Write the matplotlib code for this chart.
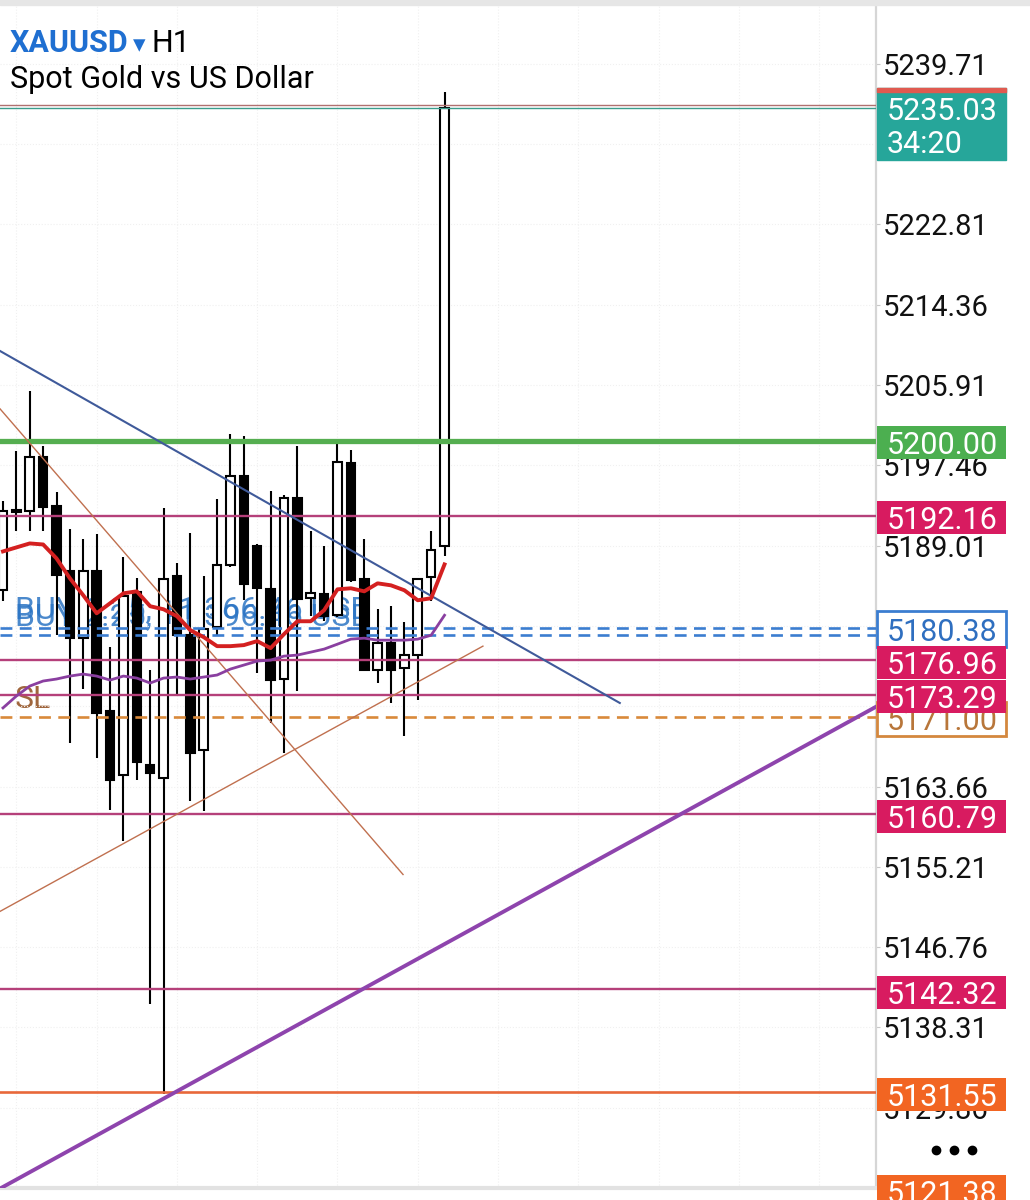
import matplotlib.pyplot as plt
from matplotlib.patches import Rectangle
import numpy as np

plt.rcParams['font.family'] = ['Roboto', 'DejaVu Sans']

# XAUUSD H1 candles, oldest first
opens = [5184.31, 5192.55, 5192.60, 5198.37, 5193.23, 5186.30, 5179.27, 5186.30, 5171.61, 5164.89,
         5184.10, 5165.94, 5164.58, 5185.78, 5179.58, 5167.52, 5180.42, 5186.93, 5196.37, 5188.92,
         5184.41, 5174.97, 5194.07, 5183.47, 5183.89, 5181.68, 5197.74, 5185.46, 5175.91, 5178.75,
         5176.12, 5177.49, 5185.67, 5188.92]
highs = [5193.75, 5199.00, 5205.29, 5199.52, 5194.69, 5190.81, 5189.66, 5190.18, 5178.33, 5187.77,
         5185.57, 5175.91, 5193.02, 5187.14, 5190.29, 5185.78, 5193.96, 5200.78, 5200.57, 5189.13,
         5194.80, 5194.38, 5199.52, 5190.50, 5188.92, 5199.73, 5199.10, 5189.66, 5182.31, 5182.63,
         5180.95, 5185.57, 5190.50, 5236.77]
lows = [5183.15, 5190.50, 5190.50, 5190.50, 5179.58, 5168.25, 5173.92, 5166.68, 5161.22, 5157.97,
        5164.37, 5140.76, 5131.30, 5173.18, 5162.17, 5161.12, 5179.58, 5186.80, 5183.26, 5175.60,
        5170.35, 5167.20, 5173.71, 5181.58, 5181.05, 5181.50, 5185.15, 5175.81, 5174.55, 5172.45,
        5168.99, 5172.76, 5183.15, 5187.87]
closes = [5192.60, 5192.75, 5198.37, 5193.12, 5185.88, 5179.27, 5186.30, 5171.40, 5164.37, 5183.68,
          5166.26, 5165.10, 5185.46, 5179.58, 5167.20, 5180.21, 5186.93, 5196.37, 5184.94, 5184.52,
          5174.86, 5194.07, 5183.36, 5183.99, 5181.58, 5197.84, 5185.36, 5175.91, 5178.75, 5175.91,
          5177.49, 5185.46, 5188.50, 5235.03]

ma_fast = [5188.40, 5188.82, 5189.24, 5189.13, 5187.66, 5185.57, 5183.78, 5181.89, 5182.94, 5183.99,
           5184.20, 5182.63, 5182.31, 5181.58, 5180.11, 5179.38, 5178.43, 5178.43, 5178.54, 5178.96,
           5178.22, 5179.69, 5181.05, 5181.05, 5182.21, 5184.41, 5184.52, 5184.20, 5185.04, 5184.83,
           5184.31, 5183.26, 5183.47, 5187.03]
ma_slow = [5171.93, 5173.18, 5174.23, 5174.76, 5174.97, 5175.28, 5175.49, 5175.28, 5174.86, 5175.28,
           5175.07, 5174.55, 5175.07, 5175.18, 5174.97, 5175.18, 5175.39, 5176.02, 5176.44, 5176.86,
           5176.96, 5177.38, 5177.49, 5177.80, 5178.12, 5178.64, 5179.17, 5179.27, 5179.06, 5179.06,
           5179.06, 5179.17, 5179.58, 5181.68]

price_ticks = [5239.71, 5231.26, 5222.81, 5214.36, 5205.91, 5197.46, 5189.01, 5180.56,
               5172.11, 5163.66, 5155.21, 5146.76, 5138.31, 5129.86, 5121.41]

level_green = 5200.00
levels_pink = [5192.16, 5176.96, 5173.29, 5160.79, 5142.32]
level_orange = 5131.55
level_bottom = 5121.38
buy_levels = [5180.38, 5179.58]
sl_level = 5171.00
bid, ask = 5235.03, 5235.41
timer = '34:20'

# drawn trendlines: (x0, x1), (y0, y1) in bar index / price
tl_blue = ([-0.22, 46.1], [5209.49, 5172.45])
tl_brown_dn = ([-0.22, 29.9], [5203.40, 5154.40])
tl_brown_up = ([-0.22, 35.87], [5150.52, 5178.43])
tl_purple = ([-0.3, 65.3], [5121.29, 5172.09])

YMIN, YMAX = 5121.77, 5245.90
W, H = 1030, 1200

fig = plt.figure(figsize=(W / 100, H / 100), dpi=100)
fig.patch.set_facecolor('white')
ax = fig.add_axes([0, 12 / H, 876 / W, 1183 / H])
u_px = (YMAX - YMIN) / 1183  # price units per pixel

o, hi, lo, c = map(np.array, (opens, highs, lows, closes))
x = np.arange(len(o))
up = c >= o

ax.vlines(x, lo, hi, color='black', lw=1.5, zorder=2)
ax.bar(x, np.maximum(np.abs(c - o), 0.15), bottom=np.minimum(o, c), width=0.64,
       color=np.where(up, 'white', 'black'), edgecolor='black', lw=1.5, zorder=3)

ax.plot(x, ma_slow, color='#8a3fa0', lw=2.0, zorder=5)
ax.plot(x, ma_fast, color='#d42020', lw=2.8, zorder=5)

ax.axhline(level_green, color='#55ae50', lw=3.8, zorder=4)
for lv in levels_pink:
    ax.axhline(lv, color='#b5407a', lw=1.7, zorder=4)
ax.axhline(level_orange, color='#e8683a', lw=1.9, zorder=4)
for lv in buy_levels:
    ax.axhline(lv, color='#3b7dd0', lw=1.9, dashes=(4.5, 2.8), zorder=4)
ax.axhline(sl_level, color='#d9893a', lw=1.9, dashes=(4.5, 2.8), zorder=4)
ax.axhline(ask, color='#b07070', lw=1.0, zorder=4)
ax.axhline(bid, color='#3c9c8c', lw=1.0, zorder=4)

ax.plot(*tl_blue, color='#3f5a9a', lw=1.5, zorder=4)
ax.plot(*tl_brown_dn, color='#c0704f', lw=1.0, zorder=4)
ax.plot(*tl_brown_up, color='#c0704f', lw=1.0, zorder=4)
ax.plot(*tl_purple, color='#8e44ad', lw=2.8, zorder=4)

ax.text(0.9, 5181.37, 'BUY 1.25, +1 366.46 USD', fontsize=23, color='#2b74c4',
        alpha=0.85, va='baseline', zorder=1)
ax.text(0.9, 5180.63, 'BUY 2.25, +1 396.46 USD', fontsize=23, color='#2b74c4',
        alpha=0.85, va='baseline', zorder=1)
ax.text(0.9, 5171.93, 'SL', fontsize=23, color='#a0663d', va='baseline', zorder=1)

ax.set_xlim(-0.224, 65.25)
ax.set_ylim(YMIN, YMAX)
ax.set_xticks(np.arange(1, 65, 6))
ax.yaxis.tick_right()
ax.set_yticks(price_ticks)
ax.set_yticklabels([f'{v:.2f}' for v in price_ticks])
ax.tick_params(axis='y', length=3, pad=2, labelsize=21, color='#c8c8c8', labelcolor='#111111')
ax.tick_params(axis='x', length=0, labelbottom=False)
ax.grid(True, color='#f0f0f0', lw=0.8, ls=':')
for s in ['top', 'left']:
    ax.spines[s].set_visible(False)
ax.spines['right'].set_color('#d6d6d6')
ax.spines['right'].set_linewidth(1.6)
ax.spines['bottom'].set_color('#e2e2e2')
ax.spines['bottom'].set_linewidth(3)

fig.patches.append(Rectangle((0, 1 - 5 / H), 1, 5 / H, transform=fig.transFigure,
                             color='#e6e6e6', zorder=0))

# price scale labels
ax2 = fig.add_axes([876 / W, 12 / H, 154 / W, 1183 / H])
ax2.set_xlim(0, 154)
ax2.set_ylim(YMIN, YMAX)
ax2.axis('off')
ax2.patch.set_alpha(0)


def price_box(price, face, edge=None, tcolor='white', z=2, half=16.5, lw=0):
    hh = half * u_px
    ax2.add_patch(Rectangle((1, price - hh), 129, 2 * hh, facecolor=face,
                            edgecolor=edge if edge else face, lw=lw, zorder=z, clip_on=False))
    ax2.text(66, price, f'{price:.2f}', ha='center', va='center_baseline', fontsize=22,
             color=tcolor, zorder=z + 0.5, clip_on=False)


price_box(sl_level, 'white', '#d4883e', '#b8763a', z=1, half=17, lw=2)
price_box(buy_levels[0], 'white', '#3b7dd0', '#2f6fc0', z=1, half=18, lw=2)
price_box(level_green, '#4caf50', z=2)
for lv in levels_pink:
    price_box(lv, '#d81b60', z=2)
price_box(level_orange, '#f26522', z=2)
price_box(level_bottom, '#f26522', z=2)

top, bot = 5237.19, 5229.64
ax2.add_patch(Rectangle((1, bot), 129, top - bot, color='#26a69a', zorder=3))
ax2.add_patch(Rectangle((1, top - 4 * u_px), 129, 4 * u_px, color='#e05a50', zorder=3.2))
ax2.text(11, bid, f'{bid:.2f}', va='center_baseline', fontsize=22, color='white', zorder=4)
ax2.text(11, 5231.53, timer, va='center_baseline', fontsize=22, color='white', zorder=4)

ax2.plot([60, 78, 96], [5125.75] * 3, 'o', color='black', ms=6, clip_on=False)

# header
fig.text(10 / W, 1 - 52 / H, 'XAUUSD', fontsize=22, fontweight='bold', color='#1f6fd1', va='baseline')
fig.text(133 / W, 1 - 52 / H, '▾', fontsize=18, color='#1f6fd1', va='baseline',
         family=['DejaVu Sans'])
fig.text(151 / W, 1 - 52 / H, 'H1', fontsize=22, color='black', va='baseline')
fig.text(10 / W, 1 - 88 / H, 'Spot Gold vs US Dollar', fontsize=22, color='black', va='baseline')

fig.savefig('out.png', dpi=100)
